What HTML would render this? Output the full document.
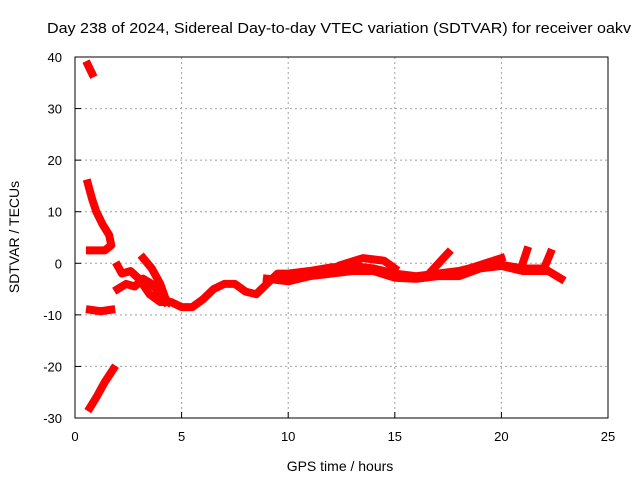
<!DOCTYPE html>
<html><head><meta charset="utf-8"><style>
body{margin:0;background:#fff}
svg{display:block;font-family:"Liberation Sans",sans-serif}
</style></head><body>
<svg id="chart" width="640" height="480">
<text x="339" y="33" text-anchor="middle" font-size="15" textLength="584" lengthAdjust="spacingAndGlyphs">Day 238 of 2024, Sidereal Day-to-day VTEC variation (SDTVAR) for receiver oakv</text>
<text x="340" y="471" text-anchor="middle" font-size="14">GPS time / hours</text>
<text transform="translate(19,237) rotate(-90)" text-anchor="middle" font-size="14">SDTVAR / TECUs</text>
<g id="grid"></g><g id="series"></g>
<rect x="75" y="57" width="533" height="361" fill="none" stroke="#000"/>
</svg>
<script>
const xTicks=[0,5,10,15,20,25];
const yTicks=[-30,-20,-10,0,10,20,30,40];
const track1=[[0.6,38.5],[0.8,36.8]];
const track2=[[0.6,15.5],[0.8,12.5],[1.0,10],[1.3,7.5],[1.6,5.5],[1.7,3.5],[1.4,2.5],[0.7,2.5]];
const track3=[[0.7,-9],[1.2,-9.3],[1.7,-9]];
const track4=[[0.7,-28],[1.0,-26],[1.4,-23],[1.8,-20.5]];
const track5=[[2.0,-0.5],[2.2,-2],[2.6,-1.5],[3.0,-3],[3.5,-6],[4.0,-7.5],[4.5,-7.5],[5,-8.5],[5.5,-8.5],[6,-7],[6.5,-5],[7,-4],[7.5,-4],[8,-5.5],[8.5,-6],[9,-4],[9.5,-2],[10,-2],[11,-1.5],[12,-0.8],[13,-0.5],[14,-1],[15,-2],[16,-2.5],[17,-2],[18,-1.5],[19,-0.5],[20,-0.3],[21,-1],[22,-1],[22.8,-3]];
const track6=[[2.0,-5],[2.4,-4],[2.8,-4.5],[3.2,-3],[3.6,-4],[4.0,-6],[4.4,-7.5]];
const track7=[[3.2,1],[3.6,-1],[4.0,-4],[4.3,-7.5]];
const track8=[[9,-3],[10,-3.5],[11,-2.5],[12,-2],[13,-1.5],[14,-1.5],[15,-2.8],[16,-3],[17,-2.5],[18,-2.5],[19,-1],[20,-0.5],[21,-1.5],[22,-1.5]];
const track9=[[12.5,-0.3],[13.5,1],[14.5,0.5],[15,-1]];
const track10=[[16.5,-2.5],[17.5,2]];
const track11=[[18.5,-1],[20,1]];
const track12=[[21,0],[21.2,2.5]];
const track13=[[22,-1],[22.3,2]];
const tracks=[track1,track2,track3,track4,track5,track6,track7,track8,track9,track10,track11,track12,track13];
const NS="http://www.w3.org/2000/svg";
const X=v=>75+v*(533/25), Y=v=>418-(v+30)*(361/70);
const grid=document.getElementById('grid');
function mk(t,a,p){const e=document.createElementNS(NS,t);for(const k in a)e.setAttribute(k,a[k]);p.appendChild(e);return e;}
xTicks.forEach(t=>{
 if(t>0&&t<25){const l=mk('line',{x1:X(t),x2:X(t),y1:57,y2:418,stroke:'#a0a0a0','stroke-dasharray':'2,3'},grid);
 
 }
 const tk=mk('line',{x1:X(t),x2:X(t),y1:418,y2:412,stroke:'#000'},grid);
 
 
 const tx=mk('text',{x:X(t),y:441,'text-anchor':'middle','font-size':13},grid);tx.textContent=t;
 
 
});
yTicks.forEach(t=>{
 if(t>-30&&t<40){const l=mk('line',{x1:75,x2:608,y1:Y(t),y2:Y(t),stroke:'#a0a0a0','stroke-dasharray':'2,3'},grid);
 
 }
 const tk=mk('line',{x1:75,x2:81,y1:Y(t),y2:Y(t),stroke:'#000'},grid);
 
 
 const tx=mk('text',{x:62,y:Y(t)+5,'text-anchor':'end','font-size':13},grid);tx.textContent=t;
 
 
});
const sg=document.getElementById('series');
tracks.forEach(tr=>{
 const p=mk('polyline',{points:tr.map(d=>X(d[0])+','+Y(d[1])).join(' '),fill:'none',stroke:'#f00','stroke-width':8,'stroke-linejoin':'round','stroke-linecap':'square'},sg);
 
 
});
</script>
</body></html>
